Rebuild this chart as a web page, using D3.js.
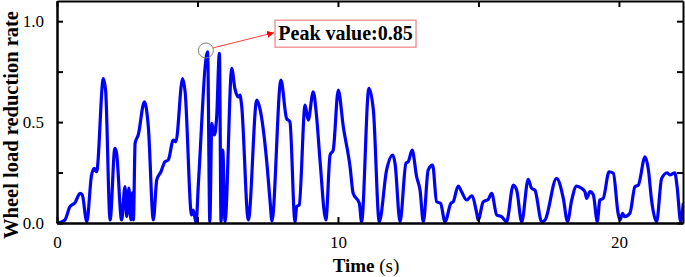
<!DOCTYPE html>
<html lang="en">
<head>
<meta charset="utf-8">
<title>Wheel load reduction rate</title>
<script src="https://cdn.jsdelivr.net/npm/d3@7"></script>
<style>
  body { margin: 0; background: #fff; }
  svg text { font-family: "Liberation Serif", "Times New Roman", serif; fill: #000; }
</style>
</head>
<body>
<script>
// time (s) and wheel load reduction rate
var times = [0.05, 0.28, 0.46, 0.64, 0.82, 0.90, 1.06, 1.23, 1.33, 1.41, 1.65, 1.73, 1.89, 2.06, 2.12, 2.30,
  2.42, 2.48, 2.56, 2.63, 2.68, 2.72, 2.78, 2.89, 3.11, 3.25, 3.43, 3.55, 3.70, 3.84, 3.96, 4.14, 4.23,
  4.47, 4.56, 4.79, 4.85, 4.95, 5.03, 5.36, 5.44, 5.51, 5.60, 5.68, 5.78, 5.84, 5.90, 5.98, 6.22, 6.33,
  6.45, 6.51, 6.57, 6.81, 7.11, 7.22, 7.46, 7.58, 7.65, 7.97, 8.17, 8.29, 8.47, 8.53, 8.62, 8.83, 8.94,
  9.12, 9.24, 9.36, 9.57, 9.72, 9.83, 10.01, 10.19, 10.43, 10.54, 10.76, 10.84, 11.10, 11.26, 11.47,
  11.73, 11.95, 12.03, 12.21, 12.42, 12.50, 12.64, 12.80, 12.92, 13.04, 13.21, 13.37, 13.51, 13.65,
  13.81, 14.02, 14.10, 14.28, 14.40, 14.58, 14.76, 14.94, 14.99, 15.17, 15.35, 15.47, 15.65, 15.83,
  16.00, 16.24, 16.36, 16.54, 16.77, 16.89, 17.01, 17.25, 17.37, 17.78, 18.02, 18.17, 18.32, 18.49,
  18.67, 18.79, 18.85, 18.97, 19.09, 19.23, 19.32, 19.44, 19.65, 19.80, 19.97, 20.04, 20.13, 20.21,
  20.39, 20.57, 20.69, 20.93, 21.05, 21.16, 21.34, 21.52, 21.72, 21.81, 21.99, 22.07, 22.20, 22.29];
var rates = [0, 0.015, 0.081, 0.10, 0.147, 0.139, 0.006, 0.238, 0.271, 0.254, 0.716, 0.658, 0.015, 0.37, 0.347, 0.015,
  0.18, 0.031, 0.173, 0.015, 0.149, 0.015, 0.395, 0.436, 0.60, 0.477, 0.015, 0.213, 0.254, 0.303, 0.312, 0.411, 0.402,
  0.716, 0.65, 0.04, 0.064, 0, 0.188, 0.848, 0.006, 0.494, 0.436, 0.518, 0.84, 0.006, 0.361, 0.006, 0.766, 0.667,
  0.625, 0.634, 0.584, 0.015, 0.609, 0.568, 0.312, 0.114, 0.01, 0.708, 0.518, 0.501, 0.006, 0.081, 0.089, 0.584, 0.51,
  0.65, 0.526, 0.312, 0.015, 0.337, 0.361, 0.658, 0.477, 0.279, 0.147, 0.098, 0.006, 0.667, 0.559, 0.006,
  0.262, 0.337, 0.296, 0.006, 0.296, 0.303, 0.361, 0.229, 0.163, 0.006, 0.262, 0.287, 0.105, 0.098,
  0.006, 0.098, 0.105, 0.183, 0.155, 0.114, 0.134, 0.048, 0.015, 0.105, 0.117, 0.147, 0.04, 0.031,
  0.006, 0.188, 0.163, 0.006, 0.216, 0.172, 0.163, 0.006, 0.015, 0.221, 0.122, 0.006, 0.114, 0.183,
  0.172, 0.155, 0.122, 0.155, 0.139, 0.006, 0.114, 0.122, 0.254, 0.246, 0.048, 0.015, 0.048, 0.031,
  0.048, 0.18, 0.188, 0.328, 0.262, 0.114, 0.006, 0.221, 0.249, 0.238, 0.249, 0.18, 0.006, 0.098];

var xTicks = [0, 10, 20];
var xMinorTicks = [5, 15];
var yTicks = [0, 0.5, 1.0];
var yMinorTicks = [0.25, 0.75];

var peakT = 5.3, peakV = 0.855;
var peakLabel = "Peak value:0.85";

var w = 685, h = 277;
var padLeft = 57, padRight = 683, padTop = 1, padBottom = 223;
var serif = "'Liberation Serif', 'Times New Roman', serif";

var svg = d3.select("body").append("svg")
  .attr("width", w)
  .attr("height", h);

var xScale = d3.scaleLinear().domain([0, 22.28]).range([padLeft, padRight]);
var yScale = d3.scaleLinear().domain([0, 1.1]).range([padBottom, padTop]);

var data = times.map(function(t, i) { return [t, rates[i]]; });

// clip the curve to the plot area
svg.append("clipPath").attr("id", "plot")
  .append("rect")
  .attr("x", padLeft).attr("y", padTop)
  .attr("width", padRight - padLeft).attr("height", padBottom - padTop);

var line = d3.line()
  .x(function(d) { return xScale(d[0]); })
  .y(function(d) { return yScale(d[1]); })
  .curve(d3.curveMonotoneX);

svg.append("path")
  .datum(data)
  .attr("clip-path", "url(#plot)")
  .attr("fill", "none")
  .attr("stroke", "#0000ff")
  .attr("stroke-width", 3.2)
  .attr("stroke-linejoin", "round")
  .attr("d", line);

// axes (ticks inward)
function fmtY(d) { return d3.format(".1f")(d); }

svg.append("g")
  .attr("transform", "translate(0," + padBottom + ")")
  .call(d3.axisBottom(xScale).tickValues(xTicks).tickSizeInner(-6).tickSizeOuter(0).tickPadding(13).tickFormat(d3.format("d")));
svg.append("g")
  .attr("transform", "translate(0," + padBottom + ")")
  .call(d3.axisBottom(xScale).tickValues(xMinorTicks).tickSizeInner(-6).tickSizeOuter(0).tickFormat(""));
svg.append("g")
  .attr("transform", "translate(0," + padTop + ")")
  .call(d3.axisTop(xScale).tickValues(xTicks.concat(xMinorTicks)).tickSizeInner(-6).tickSizeOuter(0).tickFormat(""));

svg.append("g")
  .attr("transform", "translate(" + padLeft + ",0)")
  .call(d3.axisLeft(yScale).tickValues(yTicks).tickSizeInner(-6).tickSizeOuter(0).tickPadding(13).tickFormat(fmtY));
svg.append("g")
  .attr("transform", "translate(" + padLeft + ",0)")
  .call(d3.axisLeft(yScale).tickValues(yMinorTicks).tickSizeInner(-6).tickSizeOuter(0).tickFormat(""));
svg.append("g")
  .attr("transform", "translate(" + padRight + ",0)")
  .call(d3.axisRight(yScale).tickValues(yTicks.concat(yMinorTicks)).tickSizeInner(-6).tickSizeOuter(0).tickFormat(""));

svg.selectAll(".domain").attr("stroke", "#000").attr("stroke-width", 2);
svg.selectAll(".tick line").attr("stroke", "#000").attr("stroke-width", 2);
svg.selectAll(".tick text")
  .style("font-family", serif)
  .style("font-size", "17px");

// axis titles
var xt = svg.append("text")
  .attr("x", 366).attr("y", 272)
  .attr("text-anchor", "middle")
  .style("font-family", serif)
  .style("font-size", "19px");
xt.append("tspan").attr("font-weight", "bold").text("Time");
xt.append("tspan").text(" (s)");

svg.append("text")
  .attr("transform", "translate(18,125) rotate(-90)")
  .attr("text-anchor", "middle")
  .attr("font-weight", "bold")
  .style("font-family", serif)
  .style("font-size", "20.5px")
  .text("Wheel load reduction rate");

// peak annotation
var defs = svg.append("defs");
defs.append("marker")
  .attr("id", "arrow")
  .attr("viewBox", "0 0 10 10")
  .attr("refX", 10).attr("refY", 5)
  .attr("markerWidth", 7).attr("markerHeight", 7)
  .attr("orient", "auto")
  .append("path").attr("d", "M0,0 L10,5 L0,10 z").attr("fill", "#ff0000");

var cx = xScale(peakT), cy = yScale(peakV);
svg.append("circle")
  .attr("cx", cx).attr("cy", cy).attr("r", 7.5)
  .attr("fill", "none").attr("stroke", "#808080").attr("stroke-width", 1);

var boxX = xScale(7.76), boxY = yScale(1.005), boxW = 141, boxH = 27;
svg.append("line")
  .attr("x1", cx + 7).attr("y1", cy - 2.5)
  .attr("x2", boxX - 1).attr("y2", boxY + boxH / 2 - 1)
  .attr("stroke", "#ff4040").attr("stroke-width", 1)
  .attr("marker-end", "url(#arrow)");

svg.append("rect")
  .attr("x", boxX).attr("y", boxY)
  .attr("width", boxW).attr("height", boxH)
  .attr("fill", "#fff").attr("stroke", "#f08080").attr("stroke-width", 1.2);

svg.append("text")
  .attr("x", boxX + boxW / 2).attr("y", boxY + 20)
  .attr("text-anchor", "middle")
  .attr("font-weight", "bold")
  .style("font-family", serif)
  .style("font-size", "20px")
  .text(peakLabel);
</script>
</body>
</html>
